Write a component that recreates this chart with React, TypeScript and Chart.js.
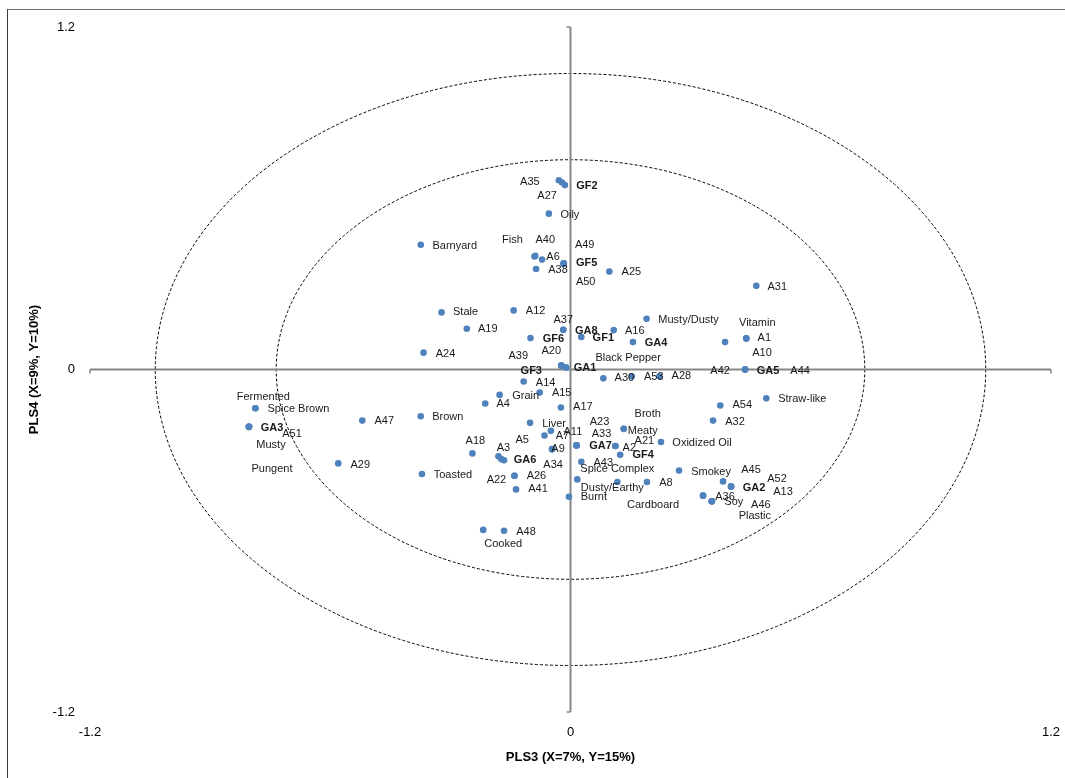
import { useEffect, useRef } from "react";
import { Chart, registerables } from "chart.js";

Chart.register(...registerables);

// ---- data ----
const NAMES = [
  "A35", "GF2", "A27", "Oily", "Barnyard", "Fish", "A40", "A6", "A49", "GF5",
  "A38", "A50", "A25", "A31", "Stale", "A12", "Musty/Dusty", "A37", "GA8", "A19",
  "A16", "GF6", "GF1", "GA4", "Vitamin", "A1", "A10", "A24", "A39", "A20",
  "Black Pepper", "GA1", "GF3", "A42", "GA5", "A44", "A30", "A53", "A28", "A14",
  "Grain", "A15", "A4", "A17", "Straw-like", "A54", "Broth", "A32", "Brown", "A47",
  "Spice Brown", "Fermented", "GA3", "A51", "Musty", "Pungent", "A29", "Liver", "A23", "A11",
  "A7", "A33", "Meaty", "A21", "Oxidized Oil", "A18", "A5", "A3", "GA6", "A9",
  "GA7", "A2", "GF4", "A34", "A43", "Spice Complex", "Smokey", "A45", "Toasted", "A26",
  "A22", "Dusty/Earthy", "A8", "GA2", "A52", "A13", "A41", "Burnt", "Cardboard", "A36",
  "Soy", "A46", "Plastic", "A48", "Cooked",
];

const PLS3 = [
  -0.029, -0.014, -0.021, -0.054, -0.374, -0.09, -0.088, -0.071, -0.017, -0.017,
  -0.086, -0.017, 0.097, 0.464, -0.322, -0.142, 0.19, -0.018, -0.018, -0.259,
  0.108, -0.1, 0.027, 0.156, 0.439, 0.439, 0.386, -0.367, -0.023, -0.023,
  -0.011, -0.011, -0.023, 0.436, 0.436, 0.436, 0.082, 0.153, 0.222, -0.117,
  -0.177, -0.077, -0.213, -0.024, 0.489, 0.374, 0.133, 0.356, -0.374, -0.52,
  -0.787, -0.787, -0.803, -0.803, -0.803, -0.803, -0.58, -0.101, 0.015, -0.049,
  -0.065, 0.015, 0.133, 0.112, 0.226, -0.245, -0.173, -0.18, -0.166, -0.046,
  0.015, 0.112, 0.124, -0.046, 0.027, 0.017, 0.271, 0.381, -0.371, -0.14,
  -0.14, 0.117, 0.191, 0.401, 0.401, 0.401, -0.136, -0.004, 0.331, 0.331,
  0.353, 0.353, 0.353, -0.166, -0.218,
];

const PLS4 = [
  0.663, 0.646, 0.655, 0.546, 0.437, 0.396, 0.398, 0.385, 0.372, 0.372,
  0.352, 0.37, 0.343, 0.293, 0.2, 0.207, 0.178, 0.139, 0.139, 0.143,
  0.138, 0.11, 0.114, 0.096, 0.109, 0.109, 0.096, 0.059, 0.014, 0.014,
  0.007, 0.007, 0.014, 0.0, 0.0, 0.0, -0.031, -0.024, -0.024, -0.042,
  -0.089, -0.081, -0.119, -0.133, -0.101, -0.126, -0.208, -0.179, -0.164, -0.179,
  -0.136, -0.136, -0.201, -0.201, -0.201, -0.201, -0.329, -0.187, -0.266, -0.215,
  -0.231, -0.266, -0.208, -0.268, -0.254, -0.294, -0.314, -0.304, -0.318, -0.279,
  -0.266, -0.268, -0.299, -0.279, -0.323, -0.385, -0.354, -0.392, -0.366, -0.372,
  -0.372, -0.394, -0.394, -0.41, -0.41, -0.41, -0.42, -0.446, -0.442, -0.442,
  -0.462, -0.462, -0.462, -0.565, -0.562,
];

const AXIS_TICKS = [-1.2, 0, 1.2];
const CIRCLE_RADII = [1.037, 0.735];
const X_TITLE = "PLS3 (X=7%, Y=15%)";
const Y_TITLE = "PLS4 (X=9%, Y=10%)";

// label placement (pixel offsets of each label centre from its point)
const LABEL_OFFSETS: [number, number][] = [
  [-29, 2], [22, 1], [-15, 13], [21, 1], [34, 1], [-22, -17], [10, -16], [11, -3], [21, -18], [23, 0],
  [22, 1], [22, 18], [22, 0], [21, 1], [24, 0], [22, 1], [42, 1], [0, -10], [23, 1], [21, 0],
  [21, 1], [23, 1], [22, 1], [23, 1], [11, -15], [18, 0], [37, 11], [22, 1], [-43, -10], [-10, -15],
  [62, -10], [19, 0], [-30, 5], [-25, 1], [23, 1], [55, 1], [21, 0], [22, 1], [22, 0], [22, 1],
  [26, 1], [22, 0], [18, 1], [22, 0], [36, 1], [22, 0], [24, -15], [22, 1], [27, 1], [22, 0],
  [43, 1], [8, -11], [23, 1], [43, 7], [22, 18], [23, 42], [22, 2], [24, 1], [23, -23], [22, 1],
  [18, 1], [25, -11], [19, 2], [29, -5], [41, 1], [3, -12], [21, -19], [5, -8], [21, 0], [6, 0],
  [24, 1], [14, 2], [23, 0], [1, 16], [22, 1], [40, -10], [32, 1], [28, -11], [31, 1], [22, 0],
  [-18, 4], [-5, 6], [19, 1], [23, 1], [46, -8], [52, 5], [22, 0], [25, 0], [-50, 9], [22, 1],
  [22, 1], [49, 4], [43, 15], [22, 1], [20, 14],
];

const FONT = '"Liberation Sans", Arial, sans-serif';
const isSample = (n: string) => /^G[AF]\d/.test(n);

const overlay = {
  id: "overlay",
  beforeDatasetsDraw(chart: any) {
    const { ctx, scales } = chart;
    const x = scales.x;
    const y = scales.y;
    const x0 = x.getPixelForValue(0);
    const y0 = y.getPixelForValue(0);
    ctx.save();
    // correlation circles
    ctx.strokeStyle = "#000";
    ctx.lineWidth = 1;
    ctx.setLineDash([3, 2]);
    for (const r of CIRCLE_RADII) {
      const rx = x.getPixelForValue(r) - x0;
      const ry = y0 - y.getPixelForValue(r);
      ctx.beginPath();
      ctx.ellipse(x0, y0, rx, ry, 0, 0, Math.PI * 2);
      ctx.stroke();
    }
    ctx.setLineDash([]);
    // axes through the origin
    ctx.strokeStyle = "#878787";
    ctx.lineWidth = 2;
    const xl = x.getPixelForValue(AXIS_TICKS[0]);
    const xr = x.getPixelForValue(AXIS_TICKS[AXIS_TICKS.length - 1]);
    const yt = y.getPixelForValue(AXIS_TICKS[AXIS_TICKS.length - 1]);
    const yb = y.getPixelForValue(AXIS_TICKS[0]);
    ctx.beginPath();
    ctx.moveTo(xl, y0);
    ctx.lineTo(xr, y0);
    ctx.moveTo(x0, yt);
    ctx.lineTo(x0, yb);
    ctx.stroke();
    // tick marks at the ends
    ctx.lineWidth = 1.5;
    ctx.beginPath();
    for (const v of AXIS_TICKS) {
      if (v === 0) continue;
      const px = x.getPixelForValue(v);
      ctx.moveTo(px, y0);
      ctx.lineTo(px, y0 + 4);
      const py = y.getPixelForValue(v);
      ctx.moveTo(x0, py);
      ctx.lineTo(x0 - 4, py);
    }
    ctx.stroke();
    ctx.restore();
  },
  afterDatasetsDraw(chart: any) {
    const { ctx, scales } = chart;
    const x = scales.x;
    const y = scales.y;
    ctx.save();
    ctx.textAlign = "center";
    ctx.textBaseline = "middle";
    ctx.fillStyle = "#1a1a1a";
    NAMES.forEach((name, i) => {
      const px = x.getPixelForValue(PLS3[i]);
      const py = y.getPixelForValue(PLS4[i]);
      const [dx, dy] = LABEL_OFFSETS[i];
      ctx.font = `${isSample(name) ? "bold " : ""}11px ${FONT}`;
      ctx.fillText(name, px + dx, py + dy);
    });
    ctx.restore();
  },
};

export default function App() {
  const ref = useRef<HTMLCanvasElement>(null);

  useEffect(() => {
    if (!ref.current) return;
    const tickFont = { family: FONT, size: 13 };
    const titleFont = { family: FONT, size: 13, weight: "bold" as const };
    const chart = new Chart(ref.current, {
      type: "scatter",
      data: {
        datasets: [
          {
            data: NAMES.map((_, i) => ({ x: PLS3[i], y: PLS4[i] })),
            pointRadius: 3.3,
            pointHoverRadius: 3.3,
            backgroundColor: "#4F81BD",
            borderWidth: 0,
          },
        ],
      },
      options: {
        responsive: false,
        animation: false,
        layout: { padding: { top: 17, right: 14, bottom: 0, left: 0 } },
        plugins: { legend: { display: false }, tooltip: { enabled: false } },
        scales: {
          x: {
            type: "linear",
            min: -1.2,
            max: 1.2,
            afterBuildTicks: (s: any) => {
              s.ticks = AXIS_TICKS.map((v) => ({ value: v }));
            },
            afterFit: (s: any) => {
              s.height = 66;
              s.paddingLeft = 0;
              s.paddingRight = 0;
            },
            grid: { display: false, drawTicks: false },
            border: { display: false },
            ticks: {
              autoSkip: false,
              maxRotation: 0,
              padding: 13,
              color: "#000",
              font: tickFont,
              callback: (v: any) => String(v),
            },
            title: {
              display: true,
              text: X_TITLE,
              color: "#000",
              font: titleFont,
              padding: { top: 13, bottom: 13 },
            },
          },
          y: {
            type: "linear",
            min: -1.2,
            max: 1.2,
            afterBuildTicks: (s: any) => {
              s.ticks = AXIS_TICKS.map((v) => ({ value: v }));
            },
            afterFit: (s: any) => {
              s.width = 82;
              s.paddingTop = 0;
              s.paddingBottom = 0;
            },
            grid: { display: false, drawTicks: false },
            border: { display: false },
            ticks: {
              autoSkip: false,
              padding: 15,
              color: "#000",
              font: tickFont,
              callback: (v: any) => String(v),
            },
            title: {
              display: true,
              text: Y_TITLE,
              color: "#000",
              font: titleFont,
              padding: { top: 19, bottom: 19 },
            },
          },
        },
      },
      plugins: [overlay],
    });
    return () => chart.destroy();
  }, []);

  return (
    <div
      style={{
        position: "absolute",
        left: 7,
        top: 9,
        width: 1057,
        height: 768,
        borderTop: "1px solid #6e6e6e",
        borderLeft: "1px solid #3a3a3a",
        background: "#fff",
        overflow: "hidden",
      }}
    >
      <canvas
        ref={ref}
        width={1057}
        height={768}
        style={{ display: "block", width: 1057, height: 768 }}
      />
    </div>
  );
}
